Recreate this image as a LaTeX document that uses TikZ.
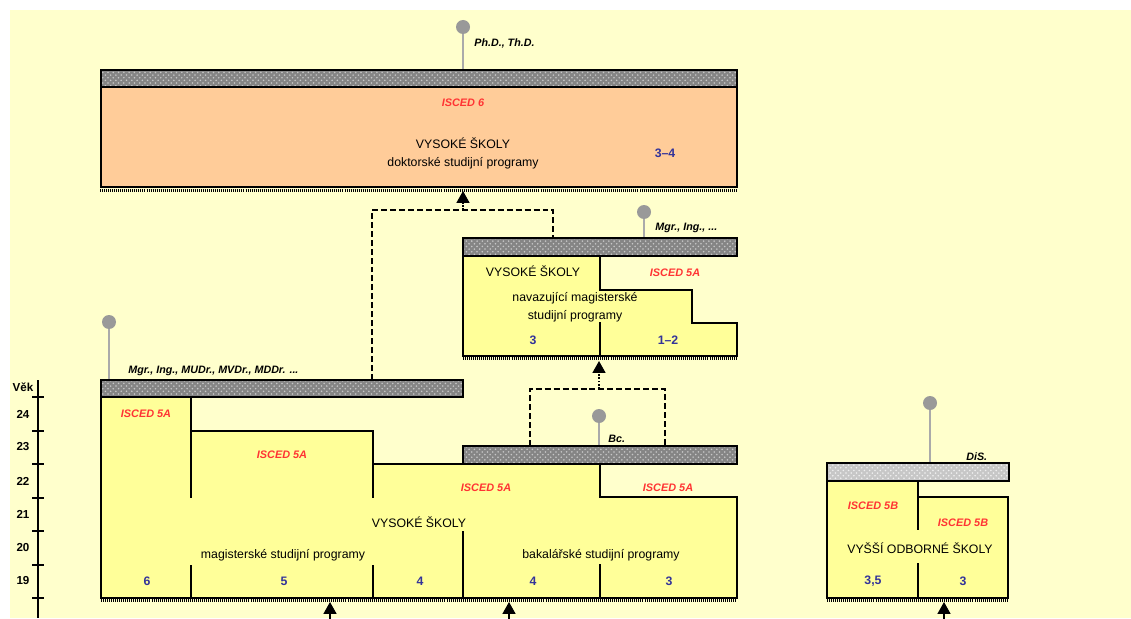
\documentclass[tikz,border=0pt]{standalone}
\usepackage{fontspec}
\setmainfont{Liberation Sans}
\usetikzlibrary{arrows.meta,calc,fit,patterns}
\definecolor{paper}{HTML}{FFFFCC}
\definecolor{vsfill}{HTML}{FFFF99}
\definecolor{phdfill}{HTML}{FFCC99}
\definecolor{iscedred}{HTML}{FF3333}
\definecolor{yearblue}{HTML}{333399}
\definecolor{pingray}{HTML}{999999}
\definecolor{stemgray}{HTML}{AAAAAA}

\begin{document}
\begin{tikzpicture}[x=0.02cm,y=-0.02cm,
  outline/.style={draw=black,line width=1.1pt,line join=miter},
  bar/.style={draw=black,line width=1.1pt,inner sep=0pt,preaction={fill=black!48},
              pattern=crosshatch dots,pattern color=black!22},
  lightbar/.style={bar,preaction={fill=black!22},pattern color=black!6},
  inner/.style={draw=black,line width=0.6pt},
  ruler/.style={draw=black,line width=1.6pt,dash pattern=on 0.55pt off 0.6pt},
  dashline/.style={draw=black,line width=0.6pt,dash pattern=on 3.4pt off 1.7pt},
  uparrow/.style={-{Triangle[width=7.4pt,length=6.8pt]},line width=0.9pt,densely dotted},
  pinhead/.style={circle,fill=pingray,minimum size=0.28cm,inner sep=0pt},
  pinstem/.style={draw=stemgray,line width=1.1pt},
  txt/.style={font=\fontsize{7}{10.2}\selectfont,align=center,inner sep=0pt},
  isced/.style={font=\fontsize{6.2}{7}\selectfont\bfseries\itshape,text=iscedred,inner sep=0pt},
  num/.style={font=\fontsize{7}{8}\selectfont\bfseries,text=yearblue,inner sep=0pt},
  deg/.style={font=\fontsize{6.1}{7}\selectfont\bfseries\itshape,inner sep=0pt,anchor=west},
  age/.style={font=\fontsize{6.6}{7}\selectfont\bfseries,inner sep=0pt}]

\useasboundingbox (0,0) rectangle (1131,618);
\fill[white] (0,0) rectangle (1131,618);
\fill[paper] (10,10) rectangle (1131,618);

% age axis
\draw[line width=1pt] (38,380) -- (38,618);
\foreach \y in {397,431,464,498,531,565,598}
  \draw[line width=1.1pt] (32,\y) -- (44,\y);
\node[age] (vek) at (23,387) {Věk};
\foreach \a/\y in {24/414,23/447,22/481,21/514,20/548,19/581}
  \node[age] (age\a) at (23,\y) {\a};

% doktorske
\node[outline,fill=phdfill,inner sep=0pt,fit={(101,87)(737,187)}] (docbox) {};
\node[bar,fit={(101,70)(737,87)}] (docbar) {};
\draw[ruler] ([yshift=-1.3pt]docbox.south west) -- ([yshift=-1.3pt]docbox.south east);
\node[isced] (docisced) at (463,103) {ISCED 6};
\node[txt] (doctxt) at (463,153) {VYSOKÉ ŠKOLY\\doktorské studijní programy};
\node[num] (docyrs) at (665,153) {3–4};
\node[pinhead] (docpin) at (463,27) {};
\draw[pinstem] (docpin) -- (docpin |- docbar.north);
\node[deg] (docdeg) at (474,43) {Ph.D., Th.D.};

% navazujici
\fill[vsfill] (463,256) -- (600,256) -- (600,290) -- (692,290) -- (692,323)
  -- (737,323) -- (737,356) -- (463,356) -- cycle;
\draw[outline] (463,256) -- (463,356) -- (737,356) -- (737,323) -- (692,323)
  -- (692,290) -- (600,290) -- (600,256);
\draw[inner] (600,322) -- (600,356);
\node[bar,fit={(463,238)(737,256)}] (navbar) {};
\draw[ruler] (463,358.5) -- (737,358.5);
\node[txt] (navvs) at (533,271) {VYSOKÉ ŠKOLY};
\node[txt] (navtxt) at (575,307) {navazující magisterské\\studijní programy};
\node[isced] (navisced) at (675,273) {ISCED 5A};
\node[num] (navyrs1) at (533,340) {3};
\node[num] (navyrs2) at (668,340) {1–2};
\node[pinhead] (navpin) at (644,212) {};
\draw[pinstem] (navpin) -- (navpin |- navbar.north);
\node[deg] (navdeg) at (655,228) {Mgr., Ing., ...};

% magisterske a bakalarske
\fill[vsfill] (101,397) -- (191,397) -- (191,431) -- (373,431) -- (373,464)
  -- (600,464) -- (600,497) -- (737,497) -- (737,598) -- (101,598) -- cycle;
\draw[outline] (101,397) -- (191,397) -- (191,431) -- (373,431) -- (373,464)
  -- (600,464) -- (600,497) -- (737,497) -- (737,598) -- (101,598) -- cycle;
\draw[inner] (191,431) -- (191,498) (191,565) -- (191,598);
\draw[inner] (373,464) -- (373,498) (373,565) -- (373,598);
\draw[inner] (463,531) -- (463,598);
\draw[inner] (600,564) -- (600,598);
\node[bar,fit={(101,380)(463,397)}] (magbar) {};
\node[bar,fit={(463,446)(737,464)}] (bcbar) {};
\draw[ruler] (101,600.5) -- (737,600.5);
\node[isced] (magisced1) at (146,414) {ISCED 5A};
\node[isced] (magisced2) at (282,455) {ISCED 5A};
\node[isced] (magisced3) at (486,488) {ISCED 5A};
\node[isced] (bcisced) at (668,488) {ISCED 5A};
\node[txt] (vstxt) at (419,522) {VYSOKÉ ŠKOLY};
\node[txt] (magtxt) at (283,555) {magisterské studijní programy};
\node[txt] (bctxt) at (601,555) {bakalářské studijní programy};
\node[num] (magyrs1) at (147,581) {6};
\node[num] (magyrs2) at (284,581) {5};
\node[num] (magyrs3) at (420,581) {4};
\node[num] (bcyrs1) at (533,581) {4};
\node[num] (bcyrs2) at (669,581) {3};
\node[pinhead] (magpin) at (109,322) {};
\draw[pinstem] (magpin) -- (magpin |- magbar.north);
\node[deg] (magdeg) at (128,371) {Mgr., Ing., MUDr., MVDr., MDDr. ...};
\node[pinhead] (bcpin) at (599,416) {};
\draw[pinstem] (bcpin) -- (bcpin |- bcbar.north);
\node[deg] (bcdeg) at (608,439) {Bc.};

% vyssi odborne
\fill[vsfill] (827,481) -- (918,481) -- (918,497) -- (1008,497) -- (1008,598)
  -- (827,598) -- cycle;
\draw[outline] (827,481) -- (827,598) -- (1008,598) -- (1008,497) -- (918,497) -- (918,481);
\draw[inner] (918,497) -- (918,530) (918,563) -- (918,598);
\node[lightbar,fit={(827,463)(1009,481)}] (vosbar) {};
\draw[ruler] (827,600.5) -- (1008,600.5);
\node[isced] (vosisced1) at (873,506) {ISCED 5B};
\node[isced] (vosisced2) at (963,523) {ISCED 5B};
\node[txt] (vostxt) at (920,548) {VYŠŠÍ ODBORNÉ ŠKOLY};
\node[num] (vosyrs1) at (873,581) {3,5};
\node[num] (vosyrs2) at (963,581) {3};
\node[pinhead] (vospin) at (930,403) {};
\draw[pinstem] (vospin) -- (vospin |- vosbar.north);
\node[deg] (vosdeg) at (966,457) {DiS.};

% prechody
\coordinate (magup) at (372,380);
\coordinate (navup) at (553,238);
\coordinate (docjoin) at (463,210);
\coordinate (doctip) at (463,191);
\draw[dashline] (magup) |- (docjoin) -| (navup);
\draw[uparrow] (docjoin) -- (doctip);
\coordinate (bcleft) at (530,446);
\coordinate (bcright) at (665,446);
\coordinate (bcjoin) at (599,389);
\coordinate (navtip) at (599,361);
\draw[dashline] (bcleft) |- (bcjoin) -| (bcright);
\draw[uparrow] (bcjoin) -- (navtip);
\foreach \x/\n in {330/maga,509/bca,944/vosa}{
  \coordinate (\n from) at (\x,630);
  \coordinate (\n tip) at (\x,602);
  \draw[-{Triangle[width=7.4pt,length=6.8pt]},line width=0.9pt] (\n from) -- (\n tip);
}
\end{tikzpicture}
\end{document}
